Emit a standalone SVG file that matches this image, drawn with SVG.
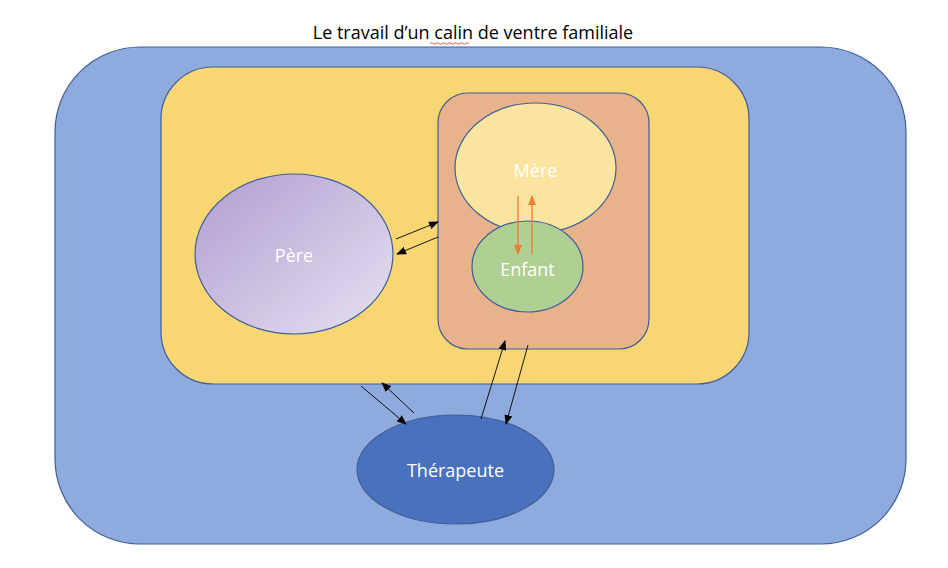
<svg xmlns="http://www.w3.org/2000/svg" width="948" height="568" viewBox="0 0 948 568">
<style>
.frame{stroke:#3f5f99;stroke-width:1.2}
.lbl{font-family:"Open Sans","Liberation Sans",sans-serif;font-size:18px;fill:#ffffff;text-anchor:middle;dominant-baseline:central}
.title{font-family:"Open Sans","Liberation Sans",sans-serif;font-size:18px;fill:#000;text-anchor:middle}
.blk{stroke:#000;stroke-width:0.9;fill:none;marker-end:url(#ahB)}
.org{stroke:#ed7d31;stroke-width:1.3;fill:none;marker-end:url(#ahO)}
</style>
<defs>
<linearGradient id="pereGrad" x1="0" y1="0" x2="1" y2="1">
<stop offset="0" stop-color="#b09dd1"/>
<stop offset="1" stop-color="#e6e2f0"/>
</linearGradient>
<marker id="ahB" markerUnits="userSpaceOnUse" markerWidth="10" markerHeight="8" refX="9" refY="4" orient="auto">
<path d="M0,0 L10,4 L0,8 z" fill="#000"/>
</marker>
<marker id="ahO" markerUnits="userSpaceOnUse" markerWidth="10" markerHeight="8" refX="9" refY="4" orient="auto">
<path d="M0,0 L10,4 L0,8 z" fill="#ed7d31"/>
</marker>
</defs>
<rect width="948" height="568" fill="#ffffff"/>
<text class="title" x="473" y="39">Le travail d’un calin de ventre familiale</text>
<path d="M430,43.5 q1.5,-1.5 3,0 t3,0 t3,0 t3,0 t3,0 t3,0 t3,0 t3,0 t3,0 t3,0 t3,0 t3,0 t3,0" fill="none" stroke="#e02020" stroke-width="0.8"/>

<g id="famille">
<rect class="frame" x="55" y="47" width="851" height="497" rx="85" ry="85" fill="#8faadc"/>
</g>
<g id="couple">
<rect class="frame" x="161" y="67" width="588" height="317" rx="52" ry="52" fill="#f8d674"/>
</g>
<g id="dyade">
<rect class="frame" x="438" y="93" width="211" height="256" rx="30" ry="30" fill="#e8b28a"/>
</g>
<g id="mere">
<ellipse class="frame" cx="535.5" cy="168" rx="80.5" ry="65" fill="#fae4a0"/>
<text class="lbl" x="535.5" y="170">Mère</text>
</g>
<g id="enfant">
<ellipse class="frame" cx="527.5" cy="266.5" rx="55.5" ry="45.5" fill="#afcf93"/>
<text class="lbl" x="527.5" y="269">Enfant</text>
</g>
<g id="pere">
<ellipse class="frame" cx="294" cy="254" rx="99" ry="80" fill="url(#pereGrad)"/>
<text class="lbl" x="294" y="255">Père</text>
</g>
<g id="therapeute">
<ellipse class="frame" cx="455.5" cy="469.5" rx="98.5" ry="54.5" fill="#4a71bd"/>
<text class="lbl" x="455.5" y="470">Thérapeute</text>
</g>
<g id="connectors">
<line class="blk" x1="396" y1="239" x2="438" y2="222"/>
<line class="blk" x1="438" y1="237" x2="397" y2="254"/>
<line class="org" x1="518" y1="196" x2="518" y2="254"/>
<line class="org" x1="532" y1="254" x2="532" y2="196"/>
<line class="blk" x1="361" y1="386" x2="406" y2="424"/>
<line class="blk" x1="414" y1="413" x2="382" y2="383"/>
<line class="blk" x1="481" y1="419" x2="505" y2="341"/>
<line class="blk" x1="528" y1="345" x2="506" y2="424"/>
</g>
</svg>
